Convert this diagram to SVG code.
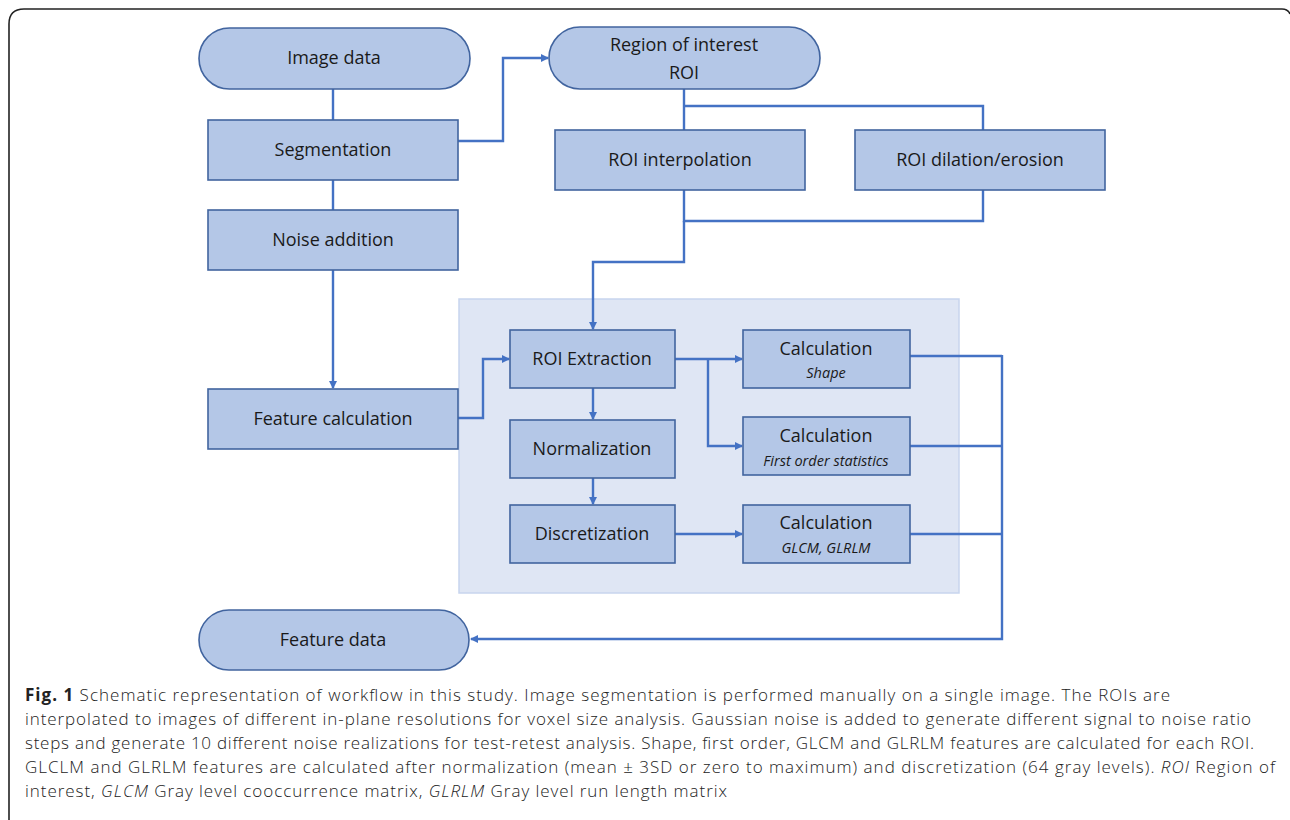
<svg xmlns="http://www.w3.org/2000/svg" width="1290" height="820" viewBox="0 0 1290 820">
<defs>
<marker id="ah" markerWidth="8" markerHeight="8" refX="7" refY="4" orient="auto" markerUnits="userSpaceOnUse">
<path d="M0,0 L8,4 L0,8 Z" fill="#4472c4"/>
</marker>
<style>
.box{fill:#b4c7e7;stroke:#41649f;stroke-width:1.6}
.lbl{font-family:"Open Sans","Liberation Sans",sans-serif;font-size:18px;font-weight:500;fill:#1a1a1a;text-anchor:middle}
.sub{font-family:"Open Sans","Liberation Sans",sans-serif;font-size:14.5px;font-style:italic;font-weight:500;fill:#1a1a1a;text-anchor:middle}
.con{fill:none;stroke:#4472c4;stroke-width:2.4}
.cap{font-family:"Open Sans","Liberation Sans",sans-serif;font-size:17px;font-weight:300;fill:#222}
</style>
</defs>
<rect width="1290" height="820" fill="#fff"/>
<path d="M9,830 L9,24 Q9,9 24,9 L1282,9 Q1288,9 1290,14" fill="none" stroke="#222" stroke-width="1.6"/>
<rect id="panel" x="459" y="299" width="500" height="294" fill="#dfe6f4" stroke="#c8d5ee" stroke-width="1.5"/>
<g id="connectors">
<path class="con" d="M333,89 V120"/>
<path class="con" d="M333,180 V210"/>
<path class="con" d="M458,141 H503 V58 H548" marker-end="url(#ah)"/>
<path class="con" d="M333,270 V388" marker-end="url(#ah)"/>
<path class="con" d="M458,418 H483 V359 H509" marker-end="url(#ah)"/>
<path class="con" d="M684,89 V130"/>
<path class="con" d="M684,106 H983 V130"/>
<path class="con" d="M684,190 V221 H983 V190"/>
<path class="con" d="M684,221 V262 H593 V329" marker-end="url(#ah)"/>
<path class="con" d="M593,388 V419" marker-end="url(#ah)"/>
<path class="con" d="M593,478 V504" marker-end="url(#ah)"/>
<path class="con" d="M675,359 H742" marker-end="url(#ah)"/>
<path class="con" d="M708,359 V446 H742" marker-end="url(#ah)"/>
<path class="con" d="M675,534 H742" marker-end="url(#ah)"/>
<path class="con" d="M910,356 H1002 M910,446 H1002 M910,534 H1002"/>
<path class="con" d="M1002,355 V639 H471" marker-end="url(#ah)"/>
</g>
<g id="image-data"><rect class="box" x="199" y="28" width="271" height="61" rx="30.5"/><text class="lbl" x="334" y="64">Image data</text></g>
<g id="segmentation"><rect class="box" x="208" y="120" width="250" height="60"/><text class="lbl" x="333" y="156">Segmentation</text></g>
<g id="noise-addition"><rect class="box" x="208" y="210" width="250" height="60"/><text class="lbl" x="333" y="246">Noise addition</text></g>
<g id="feature-calculation"><rect class="box" x="208" y="389" width="250" height="60"/><text class="lbl" x="333" y="425">Feature calculation</text></g>
<g id="feature-data"><rect class="box" x="199" y="610" width="270" height="60" rx="30"/><text class="lbl" x="333" y="646">Feature data</text></g>
<g id="roi"><rect class="box" x="549" y="27" width="271" height="62" rx="31"/><text class="lbl" x="684" y="51">Region of interest</text><text class="lbl" x="684" y="79">ROI</text></g>
<g id="roi-interpolation"><rect class="box" x="555" y="130" width="250" height="60"/><text class="lbl" x="680" y="166">ROI interpolation</text></g>
<g id="roi-dilation"><rect class="box" x="855" y="130" width="250" height="60"/><text class="lbl" x="980" y="166">ROI dilation/erosion</text></g>
<g id="roi-extraction"><rect class="box" x="510" y="330" width="165" height="58"/><text class="lbl" x="592" y="365">ROI Extraction</text></g>
<g id="normalization"><rect class="box" x="510" y="420" width="165" height="58"/><text class="lbl" x="592" y="455">Normalization</text></g>
<g id="discretization"><rect class="box" x="510" y="505" width="165" height="58"/><text class="lbl" x="592" y="540">Discretization</text></g>
<g id="calc-shape"><rect class="box" x="743" y="330" width="167" height="58"/><text class="lbl" x="826" y="355">Calculation</text><text class="sub" x="826" y="378">Shape</text></g>
<g id="calc-first-order"><rect class="box" x="743" y="417" width="167" height="58"/><text class="lbl" x="826" y="442">Calculation</text><text class="sub" x="826" y="466">First order statistics</text></g>
<g id="calc-glcm"><rect class="box" x="743" y="505" width="167" height="58"/><text class="lbl" x="826" y="529">Calculation</text><text class="sub" x="826" y="553">GLCM, GLRLM</text></g>
<g id="caption">
<text class="cap" x="25" y="701" textLength="1145" lengthAdjust="spacing"><tspan font-weight="700">Fig. 1</tspan> Schematic representation of workflow in this study. Image segmentation is performed manually on a single image. The ROIs are</text>
<text class="cap" x="25" y="725" textLength="1226" lengthAdjust="spacing">interpolated to images of different in-plane resolutions for voxel size analysis. Gaussian noise is added to generate different signal to noise ratio</text>
<text class="cap" x="25" y="749" textLength="1229" lengthAdjust="spacing">steps and generate 10 different noise realizations for test-retest analysis. Shape, first order, GLCM and GLRLM features are calculated for each ROI.</text>
<text class="cap" x="25" y="773" textLength="1250" lengthAdjust="spacing">GLCLM and GLRLM features are calculated after normalization (mean ± 3SD or zero to maximum) and discretization (64 gray levels). <tspan font-style="italic">ROI</tspan> Region of</text>
<text class="cap" x="25" y="797" textLength="702" lengthAdjust="spacing">interest, <tspan font-style="italic">GLCM</tspan> Gray level cooccurrence matrix, <tspan font-style="italic">GLRLM</tspan> Gray level run length matrix</text>
</g>
</svg>
